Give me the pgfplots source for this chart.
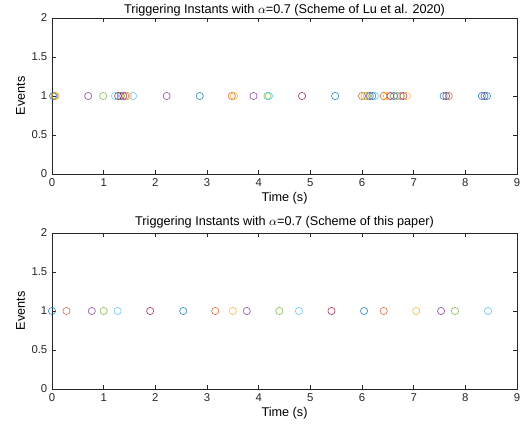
\documentclass[border=0pt]{standalone}
\usepackage{pgfplots}
\pgfplotsset{compat=1.18}
\usepackage{fontspec}
\setmainfont{Liberation Sans}
\definecolor{mblue}{rgb}{0,0.447,0.741}
\definecolor{morange}{rgb}{0.85,0.325,0.098}
\definecolor{myellow}{rgb}{0.929,0.694,0.125}
\definecolor{mpurple}{rgb}{0.494,0.184,0.556}
\definecolor{mgreen}{rgb}{0.466,0.674,0.188}
\definecolor{mcyan}{rgb}{0.301,0.745,0.933}
\definecolor{mdred}{rgb}{0.635,0.078,0.184}
\definecolor{axgray}{rgb}{0.15,0.15,0.15}
\pgfplotsset{
  mstyle/.style={
    scale only axis, width=348.75pt, height=117pt,
    xmin=0, xmax=9, ymin=0, ymax=2,
    xtick={0,1,...,9}, ytick={0,0.5,1,1.5,2},
    tick align=inside, tick pos=both,
    major tick length=3pt,
    axis line style={axgray, line width=0.4pt},
    every tick/.style={axgray, line width=0.4pt},
    tick label style={font=\fontsize{8.5}{10}\selectfont, text=axgray},
    label style={font=\fontsize{9.5}{11}\selectfont},
    title style={font=\fontsize{9.5}{11}\selectfont},
    /pgf/number format/assume math mode=true,
    xlabel={Time (s)}, ylabel={Events},
    xlabel style={yshift=3pt},
    ylabel style={yshift=-2pt},
  },
  ev/.style={only marks, mark=o, mark size=2.7pt, line width=0.5pt, draw=#1, mark options={draw=#1, draw opacity=0.8}},
}
\begin{document}
\begin{tikzpicture}
\useasboundingbox (-39pt,-193.5pt) rectangle (355.5pt,130.5pt);
\begin{axis}[mstyle, title style={yshift=-8.5pt}, title={Triggering Instants with $\alpha$=0.7 (Scheme of Lu et al. 2020)}]
\addplot[ev=mblue] coordinates {(0.02,1) (1.33,1) (2.86,1) (5.48,1) (6.20,1) (6.62,1) (7.58,1) (8.32,1) (8.42,1)};
\addplot[ev=morange] coordinates {(0.05,1) (1.42,1) (3.48,1) (6.00,1) (6.42,1) (6.75,1) (7.68,1)};
\addplot[ev=myellow] coordinates {(0.07,1) (1.47,1) (3.52,1) (6.05,1) (6.48,1) (6.87,1)};
\addplot[ev=mpurple] coordinates {(0.70,1) (1.38,1) (2.22,1) (3.90,1) (6.15,1) (6.80,1) (7.63,1) (8.37,1)};
\addplot[ev=mgreen] coordinates {(0.99,1) (4.17,1) (6.10,1) (6.68,1)};
\addplot[ev=mcyan] coordinates {(1.22,1) (1.57,1) (4.20,1) (6.25,1)};
\addplot[ev=mdred] coordinates {(1.28,1) (4.84,1) (6.55,1)};
\end{axis}
\begin{axis}[mstyle, yshift=-161.25pt, title style={yshift=-6pt}, title={Triggering Instants with $\alpha$=0.7 (Scheme of this paper)}]
\addplot[ev=mblue] coordinates {(0,1) (2.54,1) (6.04,1)};
\addplot[ev=morange] coordinates {(0.28,1) (3.16,1) (6.42,1)};
\addplot[ev=myellow] coordinates {(3.50,1) (7.05,1)};
\addplot[ev=mpurple] coordinates {(0.77,1) (3.77,1) (7.53,1)};
\addplot[ev=mgreen] coordinates {(1.00,1) (4.40,1) (7.80,1)};
\addplot[ev=mcyan] coordinates {(1.27,1) (4.78,1) (8.44,1)};
\addplot[ev=mdred] coordinates {(1.90,1) (5.41,1)};
\end{axis}
\end{tikzpicture}
\end{document}
